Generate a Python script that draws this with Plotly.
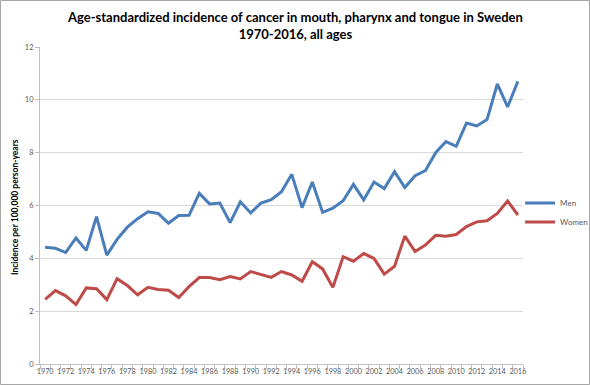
import plotly.graph_objects as go

years = list(range(1970, 2017))
men = [4.42, 4.38, 4.22, 4.77, 4.30, 5.58, 4.12, 4.72, 5.18, 5.50,
       5.76, 5.70, 5.33, 5.62, 5.63, 6.46, 6.06, 6.09, 5.35, 6.14,
       5.72, 6.09, 6.22, 6.52, 7.18, 5.92, 6.89, 5.74, 5.90, 6.18,
       6.80, 6.21, 6.89, 6.64, 7.28, 6.68, 7.13, 7.32, 8.00, 8.42,
       8.24, 9.12, 9.01, 9.25, 10.60, 9.73, 10.70]
women = [2.45, 2.78, 2.58, 2.25, 2.88, 2.85, 2.44, 3.23, 2.97, 2.62,
         2.90, 2.82, 2.79, 2.52, 2.93, 3.27, 3.27, 3.19, 3.31, 3.22,
         3.50, 3.40, 3.28, 3.50, 3.37, 3.13, 3.87, 3.60, 2.90, 4.06,
         3.89, 4.18, 4.00, 3.40, 3.70, 4.84, 4.26, 4.50, 4.87, 4.84,
         4.90, 5.20, 5.38, 5.42, 5.70, 6.17, 5.64]
tick_years = list(range(1970, 2017, 2))
y_ticks = [0, 2, 4, 6, 8, 10, 12]

FONT = "Lato, Open Sans, Liberation Sans, sans-serif"

fig = go.Figure()
fig.add_trace(go.Scatter(x=years, y=men, mode="lines", name="Men",
                         line=dict(color="#4A7EBB", width=3)))
fig.add_trace(go.Scatter(x=years, y=women, mode="lines", name="Women",
                         line=dict(color="#BE4B48", width=3)))

W, H = 590, 385
L, R, T, B = 40, 67, 47, 21
pw, ph = W - L - R, H - T - B

fig.update_layout(
    width=W, height=H,
    margin=dict(l=L, r=R, t=T, b=B, autoexpand=False),
    paper_bgcolor="white", plot_bgcolor="white",
    font=dict(family=FONT, color="#595959", size=8),
    showlegend=True,
    legend=dict(x=0.994, xanchor="left", y=0.478, yanchor="middle",
                font=dict(size=8, color="#595959", family=FONT), bgcolor="rgba(0,0,0,0)",
                itemwidth=30, tracegroupgap=0),
    xaxis=dict(range=[1969.5, 2016.5], tickvals=tick_years, ticktext=[str(v) for v in tick_years],
               showgrid=False, showline=True, linecolor="#BFBFBF", linewidth=1, automargin=False,
               ticks="", tickangle=0, tickfont=dict(size=7.3, color="#595959", family=FONT), zeroline=False,
               minor=dict(tick0=1969.5, dtick=1, ticks="outside", ticklen=4, tickcolor="#BFBFBF", showgrid=False)),
    yaxis=dict(range=[0, 12], tickvals=y_ticks, showgrid=True, gridcolor="#D9D9D9", gridwidth=1,
               showline=True, linecolor="#BFBFBF", linewidth=1, ticks="outside", ticklen=4, automargin=False,
               tickcolor="#BFBFBF", zeroline=False, tickfont=dict(size=7.5, color="#595959", family=FONT)),
)

fig.add_annotation(text="<b>Age-standardized incidence of cancer in mouth, pharynx and tongue in Sweden<br>1970-2016, all ages</b>",
                   xref="paper", yref="paper", x=(W / 2 - L) / pw, y=1 + (T - 7) / ph,
                   xanchor="center", yanchor="top", showarrow=False, align="center",
                   font=dict(size=13, color="#000000", family=FONT))

fig.add_annotation(text="<b>Incidence per 100,000 person-years</b>", textangle=-90,
                   xref="paper", yref="paper", x=(15 - L) / pw, y=(H - B - 207) / ph,
                   xanchor="center", yanchor="middle", showarrow=False,
                   font=dict(size=8.5, color="#000000", family=FONT))

fig.add_shape(type="rect", xref="paper", yref="paper",
              x0=(-L + 0.5) / pw, x1=(W - L - 0.5) / pw,
              y0=(-B + 0.5) / ph, y1=(H - B - 0.5) / ph,
              line=dict(color="#A6A6A6", width=1), fillcolor="rgba(0,0,0,0)", layer="above")

fig.write_html("out.html", config={"displayModeBar": False},
               post_script="document.body.style.margin='0';document.body.style.overflow='hidden';")
